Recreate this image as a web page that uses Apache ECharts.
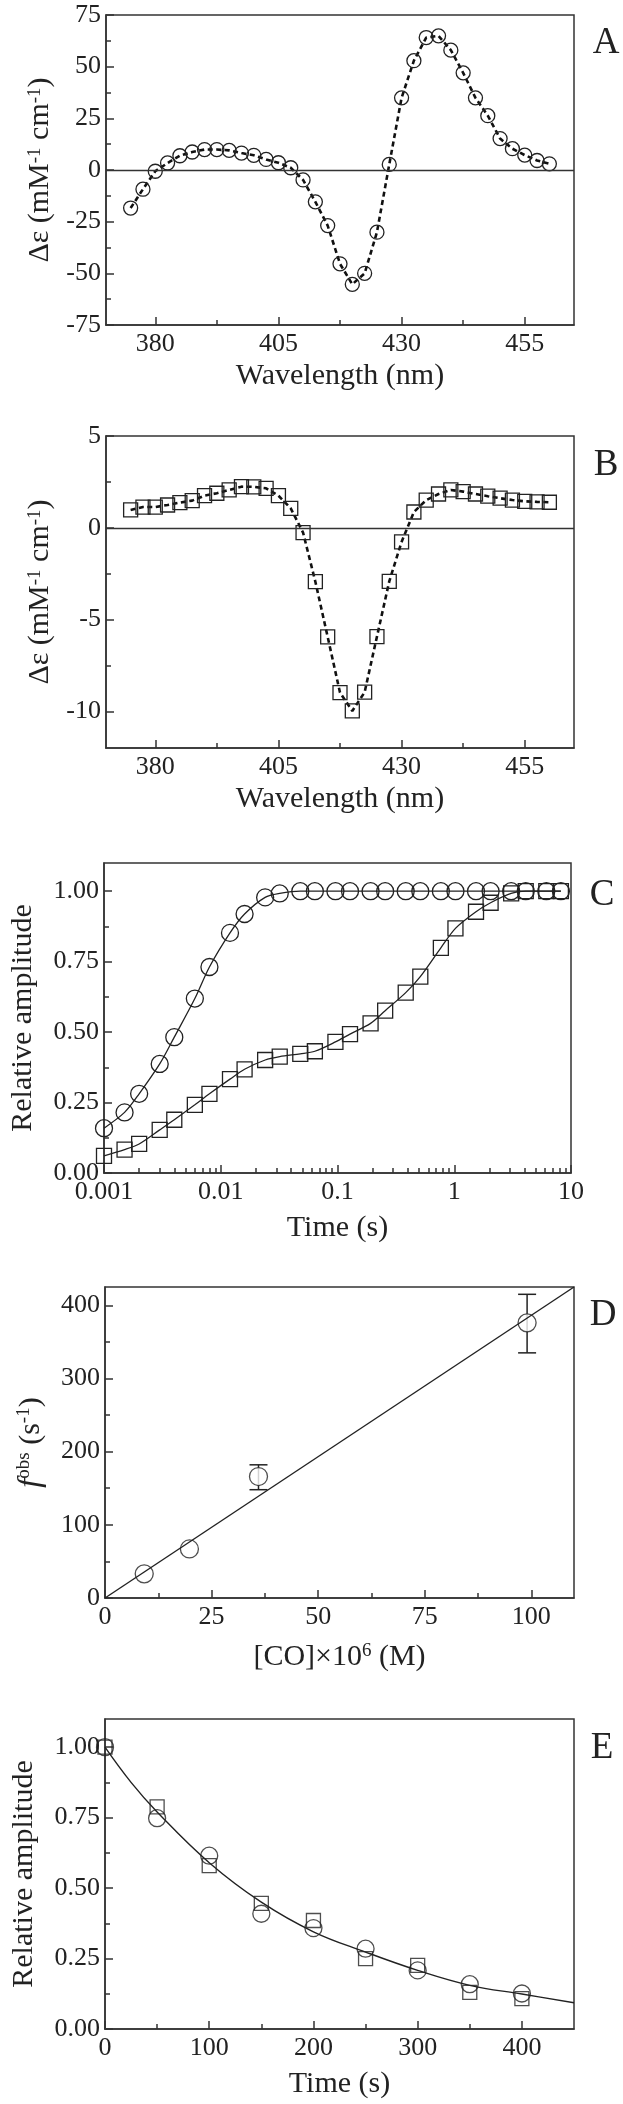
<!DOCTYPE html>
<html>
<head>
<meta charset="utf-8">
<script src="https://cdn.jsdelivr.net/npm/echarts/dist/echarts.min.js"></script>
<style>
  html, body { margin: 0; padding: 0; background: #fff; }
  #main { width: 623px; height: 2104px; }
</style>
</head>
<body>
<div id="main"></div>
<script>
// ---- data ----
// panel A / B: CD spectra
const wavelengths = [375, 377.5, 380, 382.5, 385, 387.5, 390, 392.5, 395, 397.5, 400, 402.5, 405, 407.5,
  410, 412.5, 415, 417.5, 420, 422.5, 425, 427.5, 430, 432.5, 435, 437.5, 440, 442.5, 445, 447.5,
  450, 452.5, 455, 457.5, 460];
const deltaEpsA = [-18.4, -9.3, -0.6, 3.4, 6.9, 8.7, 9.9, 9.9, 9.5, 8.2, 7.1, 5.1, 3.5, 1.1,
  -4.8, -15.4, -26.9, -45.4, -55.3, -50.0, -30.1, 2.7, 34.9, 52.9, 64.1, 64.9, 58.0, 47.0, 34.9, 26.3,
  15.2, 10.3, 7.2, 4.6, 3.0];
const deltaEpsB = [0.97, 1.13, 1.13, 1.24, 1.37, 1.48, 1.75, 1.88, 2.06, 2.24, 2.23, 2.15, 1.75, 1.06,
  -0.26, -2.94, -5.95, -8.98, -9.98, -8.96, -5.93, -2.92, -0.77, 0.86, 1.51, 1.84, 2.06, 1.97, 1.84, 1.72,
  1.61, 1.51, 1.44, 1.41, 1.39];

// panel C: kinetics on log time axis
const timesC = [0.001, 0.0015, 0.002, 0.003, 0.004, 0.006, 0.008, 0.012, 0.016, 0.024, 0.032, 0.048,
  0.064, 0.096, 0.128, 0.192, 0.256, 0.384, 0.512, 0.768, 1.024, 1.536, 2.048, 3.072, 4.096, 6.144, 8.192];
const ampCircles = [0.159, 0.215, 0.281, 0.387, 0.482, 0.619, 0.731, 0.852, 0.919, 0.978, 0.992, 1, 1,
  1, 1, 1, 1, 1, 1, 1, 1, 1, 1, 1, 1, 1, 1];
const ampSquares = [0.061, 0.083, 0.103, 0.153, 0.189, 0.242, 0.281, 0.333, 0.368, 0.401, 0.413, 0.423,
  0.432, 0.465, 0.493, 0.531, 0.576, 0.640, 0.697, 0.799, 0.868, 0.927, 0.959, 0.992, 1, 1, 1];

// panel D: observed rate vs [CO]
const coConc = [9.2, 19.8, 36.0, 99.0];
const fObs = [33, 67, 166, 376];
const errX = [36.0, 99.0];
const errLo = [148, 335];
const errHi = [182, 415];
const fitDX = [0, 110];
const fitDY = [0, 425];

// panel E: decay
const timesE = [0, 50, 100, 150, 200, 250, 300, 350, 400];
const ampECircles = [1.0, 0.748, 0.615, 0.409, 0.358, 0.285, 0.208, 0.159, 0.126];
const ampESquares = [1.0, 0.788, 0.58, 0.446, 0.385, 0.25, 0.226, 0.13, 0.108];
const fitET = [0, 25, 50, 100, 150, 200, 250, 300, 350, 400, 450];
const fitEY = [1.0, 0.875, 0.77, 0.59, 0.45, 0.345, 0.273, 0.208, 0.155, 0.124, 0.093];

// tick positions
const wlLabels = [380, 405, 430, 455];
const wlMinor = [392.5, 417.5, 442.5];
const aYLabels = [-75, -50, -25, 0, 25, 50, 75];
const aYMinor = [-62.5, -37.5, -12.5, 12.5, 37.5, 62.5];
const bYLabels = [-10, -5, 0, 5];
const bYMinor = [-7.5, -2.5, 2.5];
const logLabels = [0.001, 0.01, 0.1, 1, 10];
const logMinor = [0.002, 0.003, 0.004, 0.005, 0.006, 0.007, 0.008, 0.009,
  0.02, 0.03, 0.04, 0.05, 0.06, 0.07, 0.08, 0.09,
  0.2, 0.3, 0.4, 0.5, 0.6, 0.7, 0.8, 0.9,
  2, 3, 4, 5, 6, 7, 8, 9];
const ampLabels = [0, 0.25, 0.5, 0.75, 1];
const ampMinor = [0.125, 0.375, 0.625, 0.875];
const dXLabels = [0, 25, 50, 75, 100];
const dXMinor = [12.5, 37.5, 62.5, 87.5];
const dYLabels = [0, 100, 200, 300, 400];
const dYMinor = [50, 150, 250, 350];
const eXLabels = [0, 100, 200, 300, 400];
const eXMinor = [50, 150, 250, 350];

// ---- styling ----
const FONT = '"Liberation Serif", "DejaVu Serif", serif';
const INK = '#222';
const AX = '#333';
const TICK_SIZE = 26;
const NAME_SIZE = 30;

const pair = (xs, ys) => xs.map((x, i) => [x, ys[i]]);

const grids = [
  { left: 106, top: 15, width: 468, height: 310 },
  { left: 106, top: 436, width: 468, height: 312 },
  { left: 103, top: 863, width: 468, height: 310 },
  { left: 105, top: 1287, width: 469, height: 311 },
  { left: 105, top: 1719, width: 469, height: 310 }
].map(g => Object.assign(g, { show: true, borderColor: AX, borderWidth: 1.5, backgroundColor: 'transparent' }));

const richStyles = {
  t: { fontFamily: FONT, fontSize: NAME_SIZE, color: INK },
  i: { fontFamily: FONT, fontSize: NAME_SIZE + 2, color: INK, fontStyle: 'italic' },
  s: { fontFamily: FONT, fontSize: 19, color: INK, verticalAlign: 'top', lineHeight: 18 }
};

function mainAxis(dim, g, o) {
  return {
    type: o.type || 'value',
    gridIndex: g,
    position: dim === 'x' ? 'bottom' : 'left',
    min: o.min,
    max: o.max,
    name: o.name,
    nameLocation: 'middle',
    nameGap: o.gap,
    nameTextStyle: { fontFamily: FONT, fontSize: NAME_SIZE, color: INK, rich: richStyles },
    axisLine: { show: true, onZero: false, lineStyle: { color: AX, width: 1.5 } },
    axisTick: { show: true, inside: true, length: 8, customValues: o.labels, lineStyle: { color: AX, width: 1.5 } },
    axisLabel: {
      customValues: o.labels,
      fontFamily: FONT, fontSize: TICK_SIZE, color: INK,
      margin: dim === 'x' ? 6 : 5,
      formatter: o.fmt || (v => String(v))
    },
    splitLine: { show: false },
    minorTick: { show: false }
  };
}

function minorAxis(dim, g, o) {
  return {
    type: o.type || 'value',
    gridIndex: g,
    position: dim === 'x' ? 'bottom' : 'left',
    min: o.min,
    max: o.max,
    axisLine: { show: false, onZero: false },
    axisTick: { show: true, inside: true, length: 5, customValues: o.minor, lineStyle: { color: AX, width: 1.5 } },
    axisLabel: { show: false },
    splitLine: { show: false }
  };
}

const fmt2 = v => v.toFixed(2);

const xSpecs = [
  { min: 370, max: 465, labels: wlLabels, minor: wlMinor, name: 'Wavelength (nm)', gap: 36 },
  { min: 370, max: 465, labels: wlLabels, minor: wlMinor, name: 'Wavelength (nm)', gap: 36 },
  { type: 'log', min: 0.001, max: 10, labels: logLabels, minor: logMinor, name: 'Time (s)', gap: 40 },
  { min: 0, max: 110, labels: dXLabels, minor: dXMinor, name: '{t|[CO]×10}{s|6}{t| (M)}', gap: 44 },
  { min: 0, max: 450, labels: eXLabels, minor: eXMinor, name: 'Time (s)', gap: 40 }
];
const ySpecs = [
  { min: -75, max: 75, labels: aYLabels, minor: aYMinor, name: '{t|Δε (mM}{s|-1}{t| cm}{s|-1}{t|)}', gap: 50 },
  { min: -12, max: 5, labels: bYLabels, minor: bYMinor, name: '{t|Δε (mM}{s|-1}{t| cm}{s|-1}{t|)}', gap: 50 },
  { min: 0, max: 1.1, labels: ampLabels, minor: ampMinor, name: 'Relative amplitude', gap: 66, fmt: fmt2 },
  { min: 0, max: 425, labels: dYLabels, minor: dYMinor, name: '{i|f}{s|obs}{t| (s}{s|-1}{t|)}', gap: 58 },
  { min: 0, max: 1.1, labels: ampLabels, minor: ampMinor, name: 'Relative amplitude', gap: 66, fmt: fmt2 }
];

const xAxis = [];
const yAxis = [];
xSpecs.forEach((o, g) => { xAxis.push(mainAxis('x', g, o)); xAxis.push(minorAxis('x', g, o)); });
ySpecs.forEach((o, g) => { yAxis.push(mainAxis('y', g, o)); yAxis.push(minorAxis('y', g, o)); });

const openSym = (border) => ({ color: 'rgba(0,0,0,0)', borderColor: INK, borderWidth: border || 1.3 });
const zeroLine = {
  silent: true, symbol: 'none', label: { show: false },
  lineStyle: { color: AX, width: 1.4, type: 'solid' },
  data: [{ yAxis: 0 }]
};

const series = [
  // A
  {
    type: 'line', xAxisIndex: 0, yAxisIndex: 0,
    data: pair(wavelengths, deltaEpsA),
    symbol: 'circle', symbolSize: 14, itemStyle: openSym(),
    lineStyle: { color: '#111', width: 2.6, type: [5, 3.5] },
    markLine: zeroLine
  },
  // B
  {
    type: 'line', xAxisIndex: 2, yAxisIndex: 2,
    data: pair(wavelengths, deltaEpsB),
    symbol: 'rect', symbolSize: 14, itemStyle: openSym(),
    lineStyle: { color: '#111', width: 2.6, type: [5, 3.5] },
    markLine: zeroLine
  },
  // C
  {
    type: 'line', xAxisIndex: 4, yAxisIndex: 4,
    data: pair(timesC, ampCircles), smooth: 0.3,
    symbol: 'circle', symbolSize: 17, itemStyle: openSym(),
    lineStyle: { color: INK, width: 1.3 }
  },
  {
    type: 'line', xAxisIndex: 4, yAxisIndex: 4,
    data: pair(timesC, ampSquares), smooth: 0.3,
    symbol: 'rect', symbolSize: 15, itemStyle: openSym(),
    lineStyle: { color: INK, width: 1.3 }
  },
  // D
  {
    type: 'custom', xAxisIndex: 6, yAxisIndex: 6, z: 1,
    data: errX.map((x, i) => [x, errLo[i], errHi[i]]),
    encode: { x: 0, y: [1, 2] },
    renderItem: (params, api) => {
      const lo = api.coord([api.value(0), api.value(1)]);
      const hi = api.coord([api.value(0), api.value(2)]);
      const w = 9;
      const st = { stroke: INK, lineWidth: 1.5 };
      return {
        type: 'group', children: [
          { type: 'line', shape: { x1: lo[0], y1: lo[1], x2: hi[0], y2: hi[1] }, style: st },
          { type: 'line', shape: { x1: lo[0] - w, y1: lo[1], x2: lo[0] + w, y2: lo[1] }, style: st },
          { type: 'line', shape: { x1: hi[0] - w, y1: hi[1], x2: hi[0] + w, y2: hi[1] }, style: st }
        ]
      };
    }
  },
  {
    type: 'scatter', xAxisIndex: 6, yAxisIndex: 6, z: 2,
    data: pair(coConc, fObs),
    symbol: 'circle', symbolSize: 18,
    itemStyle: { color: '#fff', borderColor: INK, borderWidth: 1.3 }
  },
  {
    type: 'line', xAxisIndex: 6, yAxisIndex: 6, z: 3,
    data: pair(fitDX, fitDY), showSymbol: false,
    lineStyle: { color: INK, width: 1.4 }
  },
  // E
  {
    type: 'line', xAxisIndex: 8, yAxisIndex: 8,
    data: pair(fitET, fitEY), smooth: 0.4, showSymbol: false,
    lineStyle: { color: INK, width: 1.4 }
  },
  {
    type: 'scatter', xAxisIndex: 8, yAxisIndex: 8,
    data: pair(timesE, ampESquares),
    symbol: 'rect', symbolSize: 14, itemStyle: openSym()
  },
  {
    type: 'scatter', xAxisIndex: 8, yAxisIndex: 8,
    data: pair(timesE, ampECircles),
    symbol: 'circle', symbolSize: 17, itemStyle: openSym()
  }
];

const panelLetters = [['A', 606, 43], ['B', 606, 465], ['C', 602, 895], ['D', 603, 1315], ['E', 602, 1748]];
const graphic = panelLetters.map(([t, x, y]) => ({
  type: 'text', x: x, y: y,
  style: { text: t, font: '37px "Liberation Serif"', fill: INK, align: 'center', verticalAlign: 'middle' }
}));

const chart = echarts.init(document.getElementById('main'), null, { renderer: 'canvas' });
chart.setOption({
  animation: false,
  backgroundColor: '#fff',
  grid: grids,
  xAxis: xAxis,
  yAxis: yAxis,
  series: series,
  graphic: graphic
});
</script>
</body>
</html>
